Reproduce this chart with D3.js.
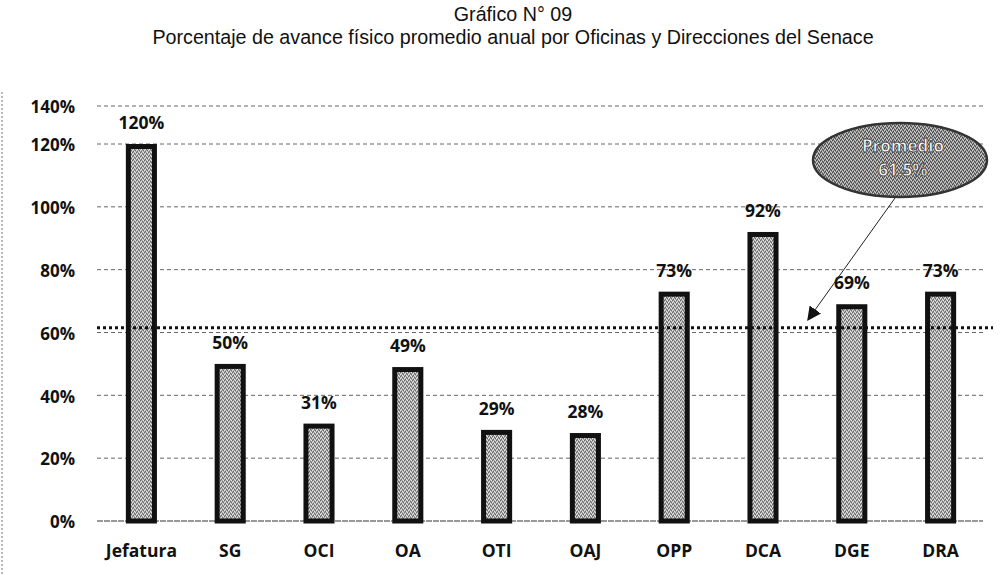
<!DOCTYPE html>
<html>
<head>
<meta charset="utf-8">
<script src="https://cdn.jsdelivr.net/npm/d3@7"></script>
<style>
  body { margin: 0; background: #fff; }
  svg { display: block; }
</style>
</head>
<body>
<div id="chart"></div>
<script>
// datos del gráfico
const categories = ["Jefatura", "SG", "OCI", "OA", "OTI", "OAJ", "OPP", "DCA", "DGE", "DRA"];
const values = [120, 50, 31, 49, 29, 28, 73, 92, 69, 73];
const yTicks = [0, 20, 40, 60, 80, 100, 120, 140];
const average = 61.5;
const titleLines = ["Gráfico N° 09", "Porcentaje de avance físico promedio anual por Oficinas y Direcciones del Senace"];
const calloutLines = ["Promedio", "61.5%"];

const width = 1004, height = 575;
const boldFont = "'Open Sans', 'DejaVu Sans', sans-serif";

const svg = d3.select("#chart").append("svg")
  .attr("width", width)
  .attr("height", height);

// patrones punteados (imitan el relleno escaneado)
const defs = svg.append("defs");
function stipple(id, base, dark, light) {
  const p = defs.append("pattern")
    .attr("id", id)
    .attr("width", 4).attr("height", 4)
    .attr("patternUnits", "userSpaceOnUse");
  p.append("rect").attr("width", 4).attr("height", 4).attr("fill", base);
  [[0, 0], [2, 1], [1, 3], [3, 2]].forEach(([x, y]) =>
    p.append("rect").attr("x", x).attr("y", y).attr("width", 1).attr("height", 1).attr("fill", dark));
  [[1, 1], [3, 0], [0, 2], [2, 3]].forEach(([x, y]) =>
    p.append("rect").attr("x", x).attr("y", y).attr("width", 1).attr("height", 1).attr("fill", light));
}
stipple("barFill", "#aaaaaa", "#666", "#e6e6e6");
stipple("ovalFill", "#8c8c8c", "#4a4a4a", "#cfcfcf");

// escalas (el tramo 120-140 está comprimido en el original)
const x = d3.scaleBand()
  .domain(categories)
  .range([97, 985])
  .paddingInner(0.65)
  .paddingOuter(0.325);

const y = d3.scaleLinear()
  .domain([0, 120, 140])
  .range([521, 144, 106]);

// línea punteada del borde izquierdo
svg.append("line")
  .attr("x1", 2).attr("x2", 2)
  .attr("y1", 92).attr("y2", height)
  .attr("stroke", "#777")
  .attr("stroke-width", 1)
  .attr("stroke-dasharray", "2,2");

// título
svg.append("g").selectAll("text")
  .data(titleLines)
  .enter()
  .append("text")
  .attr("x", 513)
  .attr("y", (d, i) => 21 + i * 23)
  .attr("text-anchor", "middle")
  .attr("font-family", "'Liberation Sans', Arial, sans-serif")
  .attr("font-size", "19.7px")
  .attr("fill", "#111")
  .text(d => d);

// líneas de cuadrícula
svg.append("g").selectAll("line")
  .data(yTicks)
  .enter()
  .append("line")
  .attr("x1", 97)
  .attr("x2", 983)
  .attr("y1", d => y(d))
  .attr("y2", d => y(d))
  .attr("stroke", d => d === 0 ? "#333" : "#666")
  .attr("stroke-width", 1)
  .attr("stroke-dasharray", d => d === 0 ? "6,1" : "4,3");

// eje Y
const yAxis = svg.append("g")
  .attr("transform", "translate(75,0)")
  .call(d3.axisLeft(y).tickValues(yTicks).tickSize(0).tickPadding(0).tickFormat(d => d + "%"));
yAxis.select(".domain").remove();
yAxis.selectAll("text")
  .attr("font-family", boldFont)
  .attr("font-weight", "bold")
  .attr("font-size", "17px")
  .attr("fill", "#111")
  .attr("dy", "0.4em");

// eje X
const xAxis = svg.append("g")
  .attr("transform", "translate(0,538)")
  .call(d3.axisBottom(x).tickSize(0).tickPadding(0));
xAxis.select(".domain").remove();
xAxis.selectAll("text")
  .attr("font-family", boldFont)
  .attr("font-weight", "bold")
  .attr("font-size", "17.5px")
  .attr("fill", "#111")
  .attr("dy", "1.1em");

// barras
svg.append("g").selectAll("rect")
  .data(values)
  .enter()
  .append("rect")
  .attr("x", (d, i) => x(categories[i]) + 2.5)
  .attr("y", d => y(d) + 2.5)
  .attr("width", x.bandwidth() - 5)
  .attr("height", d => y(0) - y(d) - 2.5)
  .attr("fill", "url(#barFill)")
  .attr("stroke", "#111")
  .attr("stroke-width", 5);

// etiquetas de valor
svg.append("g").selectAll("text")
  .data(values)
  .enter()
  .append("text")
  .attr("x", (d, i) => x(categories[i]) + x.bandwidth() / 2)
  .attr("y", d => y(d) - 15)
  .attr("text-anchor", "middle")
  .attr("font-family", boldFont)
  .attr("font-weight", "bold")
  .attr("font-size", "17.5px")
  .attr("fill", "#111")
  .text(d => d + "%");

// línea de promedio
svg.append("line")
  .attr("x1", 97).attr("x2", 993)
  .attr("y1", y(average)).attr("y2", y(average))
  .attr("stroke", "#111")
  .attr("stroke-width", 3)
  .attr("stroke-dasharray", "3,3");

// flecha y óvalo del promedio
defs.append("marker")
  .attr("id", "arrow")
  .attr("viewBox", "0 0 10 10")
  .attr("refX", 9).attr("refY", 5)
  .attr("markerWidth", 14).attr("markerHeight", 14)
  .attr("markerUnits", "userSpaceOnUse")
  .attr("orient", "auto")
  .append("path")
  .attr("d", "M0,0 L10,5 L0,10 Z")
  .attr("fill", "#111");

svg.append("line")
  .attr("x1", 895).attr("y1", 198)
  .attr("x2", 808).attr("y2", y(average) - 8)
  .attr("stroke", "#222")
  .attr("stroke-width", 1)
  .attr("marker-end", "url(#arrow)");

svg.append("ellipse")
  .attr("cx", 900).attr("cy", 160)
  .attr("rx", 87).attr("ry", 37)
  .attr("fill", "url(#ovalFill)")
  .attr("stroke", "#333")
  .attr("stroke-width", 2.5);

svg.append("g").selectAll("text")
  .data(calloutLines)
  .enter()
  .append("text")
  .attr("x", 903)
  .attr("y", (d, i) => 152 + i * 24)
  .attr("text-anchor", "middle")
  .attr("font-family", boldFont)
  .attr("font-weight", "bold")
  .attr("font-size", "17px")
  .attr("fill", "#fff")
  .attr("stroke", "#444")
  .attr("stroke-width", 0.8)
  .text(d => d);
</script>
</body>
</html>
